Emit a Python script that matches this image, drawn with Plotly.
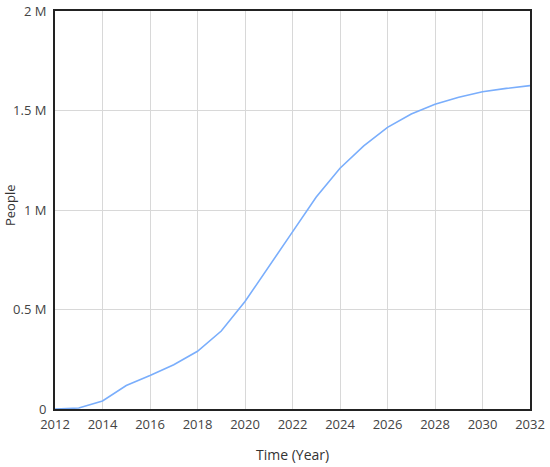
import plotly.graph_objects as go

years = list(range(2012, 2033))
people = [0, 5000, 40000, 118000, 168000, 222000, 290000, 392000, 540000, 712000,
          890000, 1065000, 1210000, 1322000, 1415000, 1482000, 1531000, 1567000,
          1594000, 1611000, 1625000]

y_tickvals = [0, 500000, 1000000, 1500000, 2000000]
y_ticktext = ["0", "0.5 M", "1 M", "1.5 M", "2 M"]
x_tickvals = list(range(2012, 2033, 2))
x_title = "Time (Year)"
y_title = "People"

fig = go.Figure()
fig.add_trace(go.Scatter(x=years, y=people, mode="lines",
                         line=dict(color="#7aaefc", width=1.6),
                         showlegend=False, hoverinfo="x+y"))

fig.update_layout(
    width=550, height=467,
    margin=dict(l=55, r=20, t=11, b=58),
    paper_bgcolor="white", plot_bgcolor="white",
    font=dict(family="Open Sans, Noto Sans, sans-serif", size=13, color="#444"),
)
fig.update_xaxes(
    range=[2012, 2032], tickvals=x_tickvals, automargin=False,
    showline=True, linecolor="#222", linewidth=2, mirror=True,
    showgrid=True, gridcolor="#d8d8d8", gridwidth=1, zeroline=False,
    ticks="", tickfont=dict(size=13, color="#444"), ticklabelstandoff=2,
)
fig.update_yaxes(
    range=[0, 2000000], tickvals=y_tickvals, ticktext=y_ticktext, automargin=False,
    showline=True, linecolor="#222", linewidth=2, mirror=True,
    showgrid=True, gridcolor="#d8d8d8", gridwidth=1, zeroline=False,
    ticks="", tickfont=dict(size=13, color="#444"), ticklabelstandoff=4,
)
fig.add_annotation(text=x_title, xref="paper", yref="paper", x=0.5, y=0,
                   xanchor="center", yanchor="middle", yshift=-45, showarrow=False,
                   font=dict(size=14, color="#333"))
fig.add_annotation(text=y_title, xref="paper", yref="paper", x=0, y=0.5,
                   xanchor="center", yanchor="middle", xshift=-45, yshift=4,
                   textangle=-90, showarrow=False,
                   font=dict(size=13, color="#333"))

fig.write_html("out.html", config={"displayModeBar": False},
               post_script="document.body.style.margin='0';document.body.style.overflow='hidden';")
